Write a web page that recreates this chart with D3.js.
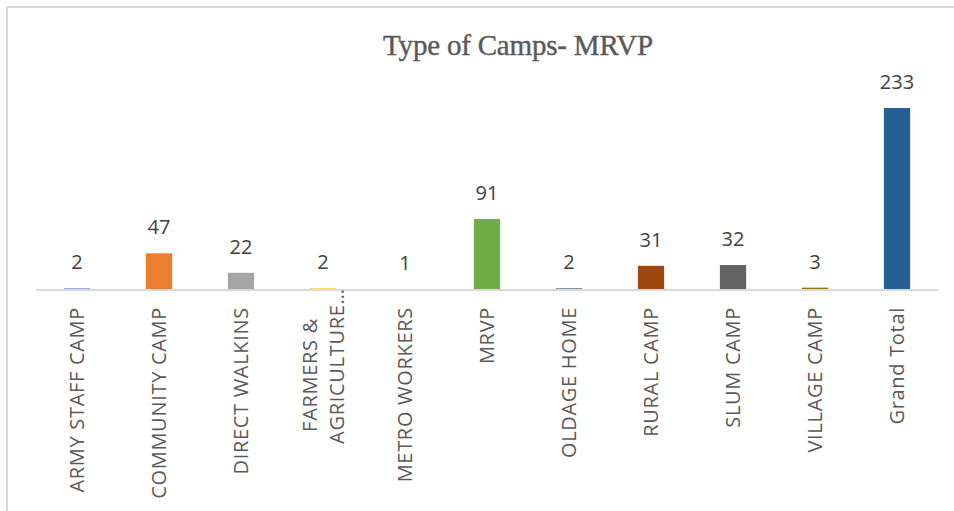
<!DOCTYPE html>
<html>
<head>
<meta charset="utf-8">
<script src="https://cdn.jsdelivr.net/npm/d3@7"></script>
<style>
  body { margin: 0; background: #fff; }
  svg { display: block; }
</style>
</head>
<body>
<script>
// chart data
const categories = ["ARMY STAFF CAMP", "COMMUNITY CAMP", "DIRECT WALKINS", "FARMERS & AGRICULTURE...",
    "METRO WORKERS", "MRVP", "OLDAGE HOME", "RURAL CAMP", "SLUM CAMP", "VILLAGE CAMP", "Grand Total"];
const values = [2, 47, 22, 2, 1, 91, 2, 31, 32, 3, 233];
const barColors = ["#4472C4", "#ED7D31", "#A5A5A5", "#FFC000", "#5B9BD5", "#70AD47",
    "#264478", "#9E480E", "#636363", "#997300", "#255E91"];
// wrapped lines for the long category label
const labelLines = {"FARMERS & AGRICULTURE...": ["FARMERS &", "AGRICULTURE…"]};

const W = 954, H = 511;
const plot = { left: 36, right: 938, base: 290 };
const labelFont = "'Open Sans', sans-serif";

const svg = d3.select("body").append("svg")
    .attr("width", W)
    .attr("height", H);

// chart frame (only left and top edges visible in the crop)
svg.append("path")
    .attr("d", `M7,${H} L7,7 L${W},7`)
    .attr("fill", "none")
    .attr("stroke", "#d9d9d9")
    .attr("stroke-width", 2);

svg.append("text")
    .attr("x", 518)
    .attr("y", 55)
    .attr("text-anchor", "middle")
    .attr("font-family", "'Liberation Serif', serif")
    .attr("font-size", 29)
    .attr("letter-spacing", -0.2)
    .attr("fill", "#595959")
    .attr("stroke", "#595959")
    .attr("stroke-width", 0.4)
    .text("Type of Camps- MRVP");

const x = d3.scaleBand()
    .domain(categories)
    .range([plot.left, plot.right])
    .paddingInner(0.68)
    .paddingOuter(0.34);

const y = d3.scaleLinear()
    .domain([0, 250])
    .range([plot.base, plot.base - 250 * 0.781]);

svg.append("g")
    .selectAll("rect")
    .data(values)
    .join("rect")
    .attr("x", (d, i) => x(categories[i]))
    .attr("y", d => y(d))
    .attr("width", x.bandwidth())
    .attr("height", d => y(0) - y(d))
    .attr("fill", (d, i) => barColors[i]);

// value labels
svg.append("g")
    .selectAll("text")
    .data(values)
    .join("text")
    .attr("x", (d, i) => x(categories[i]) + x.bandwidth() / 2)
    .attr("y", d => y(d) - 19)
    .attr("text-anchor", "middle")
    .attr("font-family", labelFont)
    .attr("font-size", 20)
    .attr("fill", "#404040")
    .text(d => d);

// baseline
svg.append("line")
    .attr("x1", plot.left).attr("x2", plot.right)
    .attr("y1", y(0)).attr("y2", y(0))
    .attr("stroke", "#d9d9d9")
    .attr("stroke-width", 2);

// category labels, rotated
const labels = svg.append("g")
    .selectAll("g")
    .data(categories)
    .join("g")
    .attr("transform", d => `translate(${x(d) + x.bandwidth() / 2},${plot.base + 17}) rotate(-90)`);

labels.each(function(d) {
    const g = d3.select(this);
    const lines = labelLines[d];
    if (!lines) {
        g.append("text")
            .attr("x", 0)
            .attr("y", 7)
            .attr("text-anchor", "end")
            .attr("font-family", labelFont)
            .attr("font-size", 20)
            .attr("letter-spacing", 0.7)
            .attr("fill", "#595959")
            .text(d);
    } else {
        const centers = [-68, -59];
        lines.forEach((t, k) => {
            g.append("text")
                .attr("x", centers[k])
                .attr("y", 7 + (k - 0.5) * 27)
                .attr("text-anchor", "middle")
                .attr("font-family", labelFont)
                .attr("font-size", 20)
                .attr("letter-spacing", 0.7)
                .attr("fill", "#595959")
                .text(t);
        });
    }
});
</script>
</body>
</html>
